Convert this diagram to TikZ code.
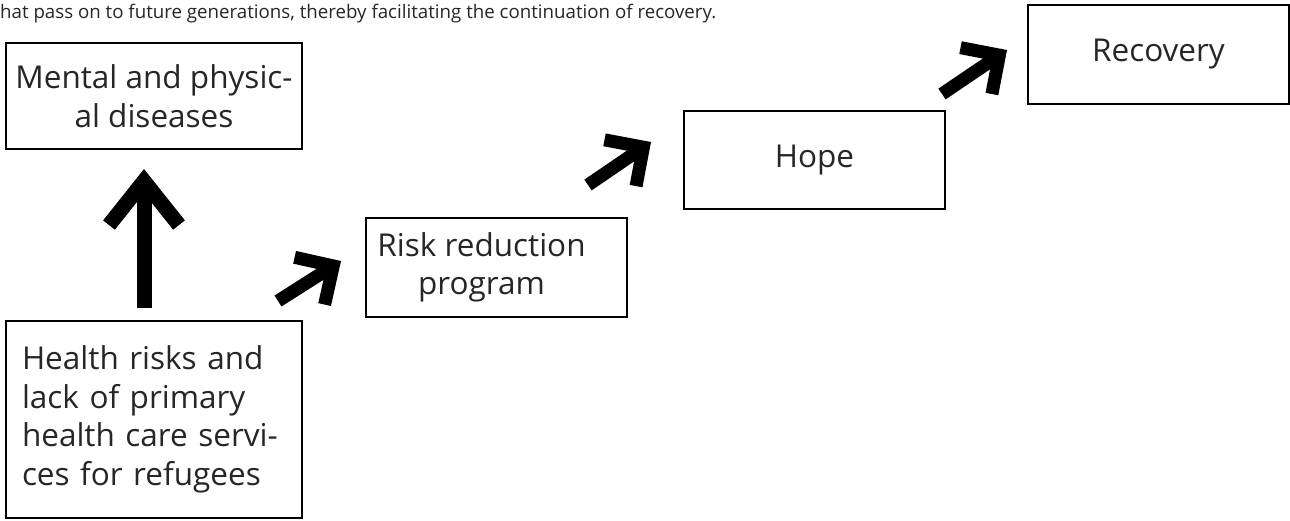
\documentclass[tikz,border=0pt]{standalone}
\usepackage{fontspec}
\setmainfont{Open Sans}
\usetikzlibrary{arrows.meta}

\begin{document}
\begin{tikzpicture}[x=1pt,y=-1pt,
  box/.style={draw, line width=2pt, inner sep=0pt, text=black!85,
    font=\fontsize{31.5}{38.5}\selectfont},
  uparrow/.style={line width=15pt, -{Straight Barb[length=44pt,width=70pt]}},
  diagarrow/.style={line width=13pt, -{Straight Barb[length=28pt,width=56pt]}}]
\useasboundingbox (0,0) rectangle (1290,520);
\node[anchor=base west, inner sep=0pt, text=black!85,
  font=\fontsize{18.7}{22}\selectfont] (intro) at (0,18)
  {hat pass on to future generations, thereby facilitating the continuation of recovery.};
\node[box, minimum width=296pt, minimum height=106pt, align=center] (md) at (154,96)
  {Mental and physic-\\al diseases};
\node[box, minimum height=197pt, text width=264pt, inner xsep=16pt, align=left] (hr) at (154,419.5)
  {Health risks and\\lack of primary\\health care servi-\\ces for refugees};
\node[box, minimum width=261pt, minimum height=99pt, align=center] (rr) at (496.5,267.5)
  {Risk reduction\rule{30pt}{0pt}\\program\rule{30pt}{0pt}};
\node[box, minimum width=261pt, minimum height=98pt] (hp) at (814.5,160) {Hope};
\node[box, minimum width=261pt, minimum height=99pt] (rc) at (1158.5,54.5) {Recovery};
\coordinate (t1) at ([shift={(-25pt,19pt)}]hr.north east);
\coordinate (h1) at ([shift={(-24pt,6.5pt)}]rr.west);
\coordinate (t2) at ([shift={(-40pt,32pt)}]rr.north east);
\coordinate (h2) at ([shift={(-32pt,18pt)}]hp.west);
\coordinate (t3) at ([shift={(-4pt,16pt)}]hp.north east);
\coordinate (h3) at ([shift={(-20pt,4.5pt)}]rc.west);
\draw[uparrow] ([xshift=-10pt,yshift=12pt]hr.north) -- ([xshift=-10pt,yshift=-19pt]md.south);
\draw[diagarrow] (t1) -- (h1);
\draw[diagarrow] (t2) -- (h2);
\draw[diagarrow] (t3) -- (h3);
\end{tikzpicture}
\end{document}
